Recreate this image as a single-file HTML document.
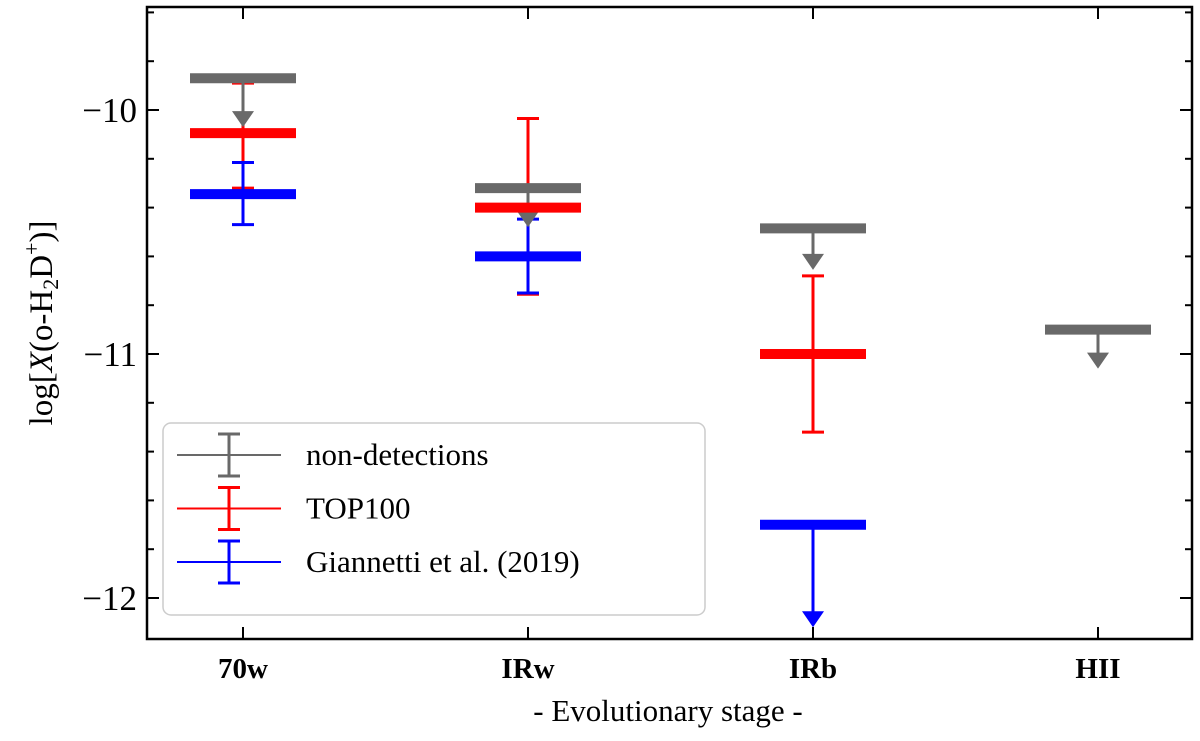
<!DOCTYPE html>
<html><head><meta charset="utf-8"><style>
body{margin:0;background:#fff;}
svg text{font-family:"Liberation Serif",serif !important;fill:#000;}
</style></head><body>
<svg id="chart" width="1200" height="736" xmlns="http://www.w3.org/2000/svg" font-family="Liberation Serif, serif">
<g id="marks"></g>
<rect x="147" y="7" width="1045" height="632" fill="none" stroke="#000" stroke-width="2.5"/>
<g id="axes"></g>
<text x="0" y="0" font-size="33" text-anchor="middle" transform="translate(52,323) rotate(-90)">log[<tspan font-style="italic">X</tspan>(o-H<tspan font-size="22" dy="6">2</tspan><tspan dy="-6">D</tspan><tspan font-size="22" dy="-13">+</tspan><tspan dy="13">)]</tspan></text>
<text x="668" y="721" font-size="31" text-anchor="middle">- Evolutionary stage -</text>
<g>
<rect x="163" y="423" width="542" height="192" rx="8" fill="#fff" fill-opacity="0.85" stroke="#ccc" stroke-width="1.5"/>
<g id="legend-items"></g>
</g>
</svg>
<script>
const categories=["70w","IRw","IRb","HII"];
const grayVals=[-9.87,-10.32,-10.485,-10.90];
const grayArrow=[0.2,0.16,0.17,0.16];
const redVals=[-10.095,-10.40,-11.0,null];
const redUp=[-9.89,-10.035,-10.68,null];
const redLo=[-10.32,-10.755,-11.32,null];
const blueVals=[-10.345,-10.60,-11.70,null];
const blueUp=[-10.215,-10.447,null,null];
const blueLo=[-10.47,-10.75,null,null];
const blueArrow=[null,null,0.42,null];
const yTicks=[-10,-11,-12];
const yTickLabels=["\u221210","\u221211","\u221212"];
const legendLabels=["non-detections","TOP100","Giannetti et al. (2019)"];

const NS="http://www.w3.org/2000/svg";
const X0=243,DX=285;
const xs=i=>X0+i*DX;
const ys=v=>110+(-10-v)*244;
function mk(tag,attrs,parent){const e=document.createElementNS(NS,tag);for(const k in attrs)e.setAttribute(k,attrs[k]);parent.appendChild(e);return e;}
const marks=document.getElementById('marks'),axes=document.getElementById('axes');
const GRAY="#696969",RED="#ff0000",BLUE="#0000ff";
function bar(i,v,c,name){const e=mk('line',{x1:xs(i)-53,x2:xs(i)+53,y1:ys(v),y2:ys(v),stroke:c,'stroke-width':10},marks);

}
function err(i,u,l,c,name){const g=mk('g',{},marks);


mk('line',{x1:xs(i),x2:xs(i),y1:ys(u),y2:ys(l),stroke:c,'stroke-width':3},g);
[u,l].forEach(v=>mk('line',{x1:xs(i)-11,x2:xs(i)+11,y1:ys(v),y2:ys(v),stroke:c,'stroke-width':3},g));}
function arrow(i,v,len,c,name){const g=mk('g',{},marks);


const y1=ys(v),y2=ys(v-len),x=xs(i);
mk('line',{x1:x,x2:x,y1:y1,y2:y2-12,stroke:c,'stroke-width':3},g);
mk('polygon',{points:`${x-11},${y2-16} ${x+11},${y2-16} ${x},${y2}`,fill:c},g);}
categories.forEach((c,i)=>{
 if(redVals[i]!==null)err(i,redUp[i],redLo[i],RED,'top100-error-'+c);
 if(blueUp[i]!==null)err(i,blueUp[i],blueLo[i],BLUE,'giannetti-error-'+c);
 if(blueArrow[i]!==null)arrow(i,blueVals[i],blueArrow[i],BLUE,'giannetti-limit-arrow-'+c);
 arrow(i,grayVals[i],grayArrow[i],GRAY,'nondetection-arrow-'+c);
});
categories.forEach((c,i)=>{
 bar(i,grayVals[i],GRAY,'nondetection-bar-'+c);
 if(redVals[i]!==null)bar(i,redVals[i],RED,'top100-bar-'+c);
 if(blueVals[i]!==null)bar(i,blueVals[i],BLUE,'giannetti-bar-'+c);
});
for(let k=0;k<=13;k++){const v=-9.6-k*0.2;const y=ys(v);if(y<8||y>638)continue;
 const major=Math.abs(v-Math.round(v))<1e-6;const L=major?12:7;
 mk('line',{x1:147,x2:147+L,y1:y,y2:y,stroke:'#000','stroke-width':2},axes);
 mk('line',{x1:1192-L,x2:1192,y1:y,y2:y,stroke:'#000','stroke-width':2},axes);}
yTicks.forEach((v,j)=>{const t=mk('text',{x:137,y:ys(v)+12,'font-size':35,'text-anchor':'end','font-family':'Liberation Serif, serif'},axes);t.textContent=yTickLabels[j];

});
categories.forEach((c,i)=>{
 mk('line',{x1:xs(i),x2:xs(i),y1:639,y2:627,stroke:'#000','stroke-width':2},axes);
 mk('line',{x1:xs(i),x2:xs(i),y1:7,y2:19,stroke:'#000','stroke-width':2},axes);
 const t=mk('text',{x:xs(i),y:678,'font-size':29,'font-weight':'bold','text-anchor':'middle','font-family':'Liberation Serif, serif'},axes);t.textContent=c;
 
 
});
const li=document.getElementById('legend-items');
[GRAY,RED,BLUE].forEach((c,j)=>{const y=455+j*53.5;const g=mk('g',{},li);
 
 
 mk('line',{x1:177,x2:281,y1:y,y2:y,stroke:c,'stroke-width':2},g);
 mk('line',{x1:229,x2:229,y1:y-21,y2:y+21,stroke:c,'stroke-width':3},g);
 [y-21,y+21].forEach(yy=>mk('line',{x1:218,x2:240,y1:yy,y2:yy,stroke:c,'stroke-width':3},g));
 const t=mk('text',{x:306,y:y+10,'font-size':31,'font-family':'Liberation Serif, serif'},g);t.textContent=legendLabels[j];});
</script>
</body></html>
